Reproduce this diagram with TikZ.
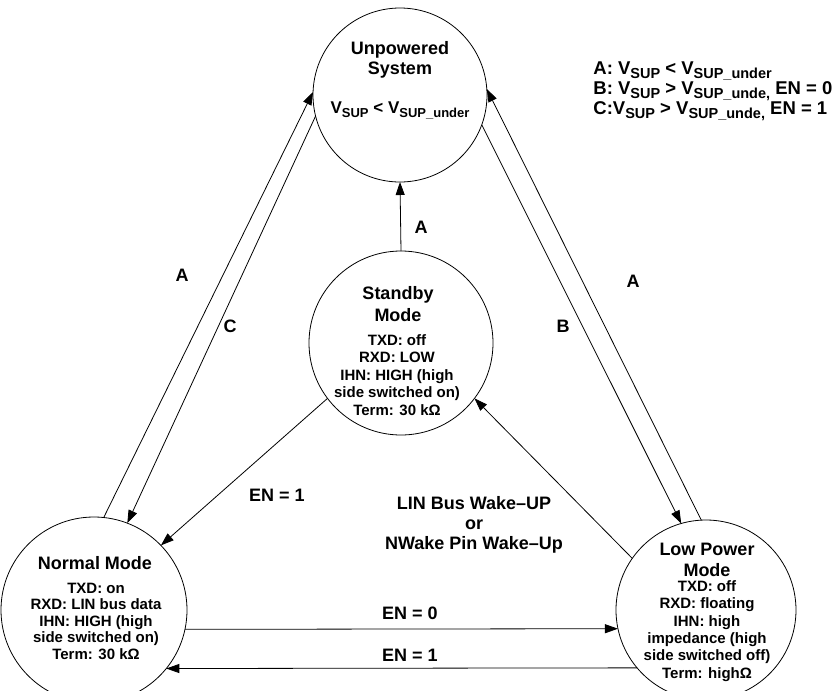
\documentclass[tikz,border=0pt]{standalone}
\usepackage{fontspec}
\setmainfont{Liberation Sans}
\usetikzlibrary{arrows.meta}
\newcommand{\sbs}[2][13]{\raisebox{-4pt}{\fontsize{#1}{#1}\selectfont #2}}
\begin{document}
\begin{tikzpicture}[x=1pt,y=-1pt,line width=0.8pt,
  state/.style={draw, circle, inner sep=0pt, outer sep=0pt},
  tr/.style={-{Triangle[length=13pt,width=9pt]}},
  lbl/.style={font=\fontsize{18}{20}\selectfont\bfseries, inner sep=0pt, align=center},
  body/.style={font=\fontsize{15}{17.5}\selectfont\bfseries, align=center, inner sep=0pt}]
\useasboundingbox (0,0) rectangle (839,691);
\begin{scope}
\clip (0,0) rectangle (839,691);
% states
\node[state, minimum size=174pt] (unp) at (400,95) {};
\node[state, minimum size=184pt] (stb) at (401,343) {};
\node[state, minimum size=186pt] (nor) at (94,610) {};
\node[state, minimum size=180pt] (low) at (706,610) {};
\end{scope}
% texts in states
\node[lbl] (unpT) at (400,60) {Unpowered\\System};
\node[lbl, font=\fontsize{17}{20}\selectfont\bfseries] (unpV) at (400,110) {V\sbs{SUP} < V\sbs{SUP\_under}};
\node[lbl, font=\fontsize{18}{22}\selectfont\bfseries] (stbT) at (398,304) {Standby\\Mode};
\node[body] (stbB) at (397,375) {TXD: off\\RXD: LOW\\IHN: HIGH (high\\side switched on)\\Term: 30 kΩ};
\node[lbl] (norT) at (95,563) {Normal Mode};
\node[body, font=\fontsize{15}{16.5}\selectfont\bfseries] (norB) at (96,621) {TXD: on\\RXD: LIN bus data\\IHN: HIGH (high\\side switched on)\\Term: 30 kΩ};
\node[lbl, font=\fontsize{18}{21}\selectfont\bfseries] (lowT) at (707,560) {Low Power\\Mode};
\node[body, font=\fontsize{15}{17.4}\selectfont\bfseries] (lowB) at (707,631) {TXD: off\\RXD: floating\\IHN: high\\impedance (high\\side switched off)\\Term: highΩ};
% connectors
\draw[tr] (nor.84.4) -- (unp.178);
\draw[tr] (unp.194.8) -- (nor.69.4);
\draw[tr] (unp.340) -- (low.106.6);
\draw[tr] (low.93.8) -- (unp.4.5);
\draw[tr] (stb.90) -- (unp.270);
\draw[tr] (stb.217.6) -- (nor.44.2);
\draw[tr] (low.145.8) -- (stb.-37.6);
\draw[tr] (nor.-12.42) -- (low.192.84);
\draw[tr] (low.220.97) -- (nor.-39.38);
% labels
\node[lbl] (lA1) at (182,275) {A};
\node[lbl] (lC) at (230,326) {C};
\node[lbl] (lA2) at (421,227) {A};
\node[lbl] (lB) at (563,326) {B};
\node[lbl] (lA3) at (633,281) {A};
\node[lbl] (lEN1a) at (277,495) {EN = 1};
\node[lbl] (lWake) at (474,525) {LIN Bus Wake--UP\\or\\NWake Pin Wake--Up};
\node[lbl] (lEN0) at (410,613) {EN = 0};
\node[lbl] (lEN1b) at (410,655) {EN = 1};
% legend
\node[lbl, align=left, anchor=west, font=\fontsize{18.5}{17.5}\selectfont\bfseries] (legend) at (593,91)
  {A: V\sbs[14.5]{SUP} < V\sbs[14.5]{SUP\_under}\\
   B: V\sbs[14.5]{SUP} > V\sbs[14.5]{SUP\_unde,} EN = 0\\
   C:V\sbs[14.5]{SUP} > V\sbs[14.5]{SUP\_unde,} EN = 1};
\end{tikzpicture}
\end{document}
